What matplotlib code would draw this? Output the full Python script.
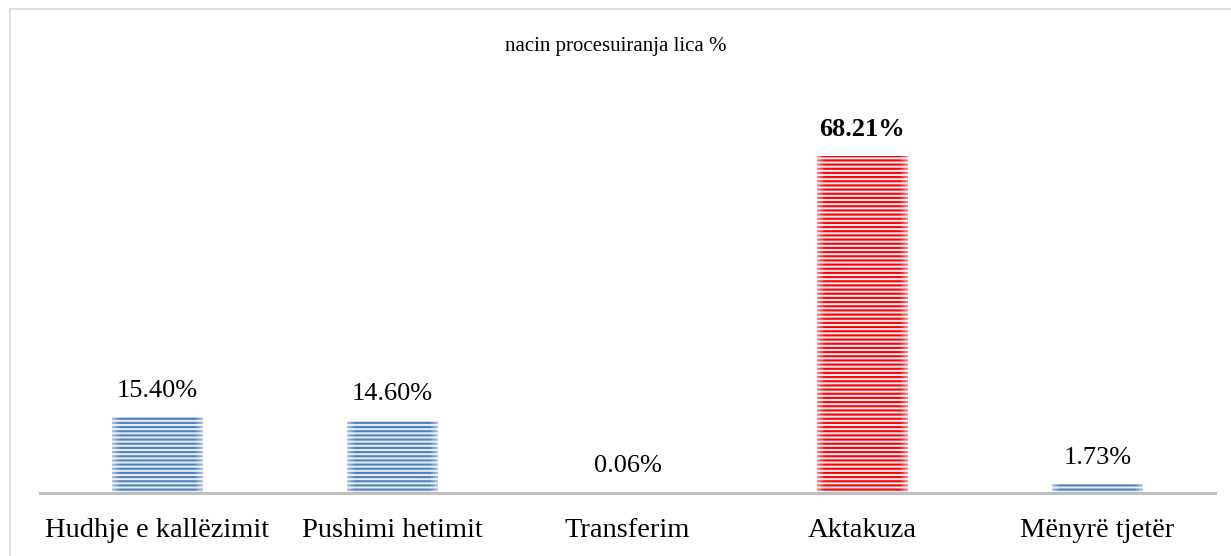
import matplotlib
matplotlib.use("Agg")
import numpy as np
import matplotlib.pyplot as plt
from matplotlib.lines import Line2D

# ── Data ─────────────────────────────────────────────────────
categories = ["Hudhje e kallëzimit", "Pushimi hetimit", "Transferim",
              "Aktakuza", "Mënyrë tjetër"]
values     = [15.40, 14.60, 0.06, 68.21, 1.73]
labels     = ["15.40%", "14.60%", "0.06%", "68.21%", "1.73%"]
title      = "nacin procesuiranja lica %"

BLUE = "#4f81bd"
RED  = "#ff0000"
BAR_W = 0.383

plt.rcParams["font.family"] = ["Liberation Serif", "DejaVu Serif"]
plt.rcParams["hatch.linewidth"] = 1.5

W, H = 1231, 556
fig = plt.figure(figsize=(W / 100, H / 100), dpi=100)

# axes box in pixels: x 40..1215, baseline y=493, top at 75% -> y≈122
ax = fig.add_axes([40 / W, 1 - 493 / H, 1175 / W, (493 - 122.5) / H])

# soft white fade at the left/right edge of each bar
t = np.linspace(-1, 1, 90)
fade = np.zeros((1, 90, 4))
fade[..., :3] = 1.0
fade[0, :, 3] = np.clip((np.abs(t) - 0.82) / 0.18, 0, 1) * 0.5

for i, v in enumerate(values):
    col = RED if i == 3 else BLUE
    ax.bar(i, v, width=BAR_W, facecolor="#e4ebf5", edgecolor=col,
           hatch="----", linewidth=0, zorder=2)
    ax.imshow(fade, extent=(i - BAR_W / 2, i + BAR_W / 2, 0, v),
              aspect="auto", zorder=2.5, interpolation="nearest")
    ax.annotate(labels[i], (i, v), xytext=(0, 19), textcoords="offset points",
                ha="center", va="center", fontsize=19,
                fontweight="bold" if i == 3 else "normal", color="#000000")

ax.set_xlim(-0.5, len(categories) - 0.5)
ax.set_ylim(0, 75)

for s in ["top", "right", "left"]:
    ax.spines[s].set_visible(False)
ax.spines["bottom"].set_color("#bfbfbf")
ax.spines["bottom"].set_linewidth(2.2)
ax.spines["bottom"].set_zorder(3)
ax.set_yticks([])
ax.set_xticks(range(len(categories)))
ax.set_xticklabels(categories, fontsize=20.5)
ax.tick_params(axis="x", length=0, pad=18)

fig.text(0.5, 1 - 47 / H, title, ha="center", va="center", fontsize=15)

# chart frame (only left and top edges are inside the image)
fig.add_artist(Line2D([10 / W, 10 / W], [0, 1 - 9 / H], color="#d9d9d9", lw=1.2))
fig.add_artist(Line2D([10 / W, 1], [1 - 9 / H, 1 - 9 / H], color="#d9d9d9", lw=1.2))

fig.savefig("out.png", dpi=100, facecolor="white")
